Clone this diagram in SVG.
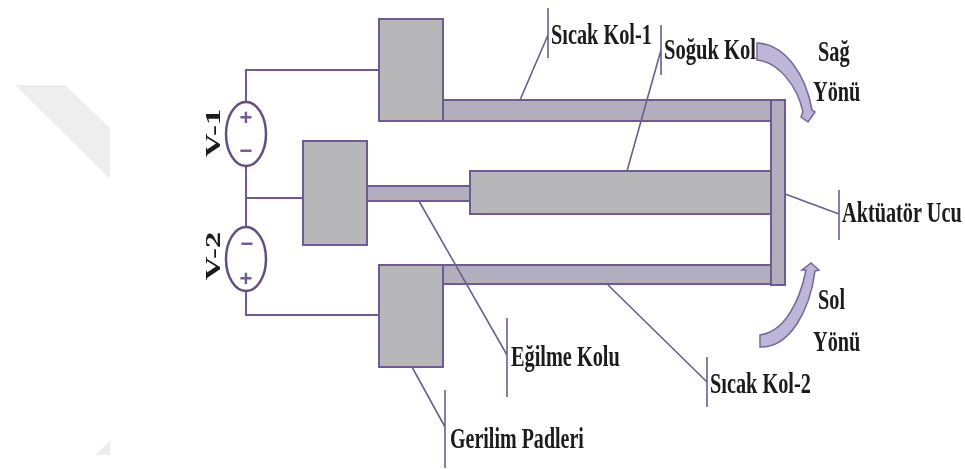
<svg xmlns="http://www.w3.org/2000/svg" width="965" height="469" viewBox="0 0 965 469">
<defs><filter id="soft" x="0" y="0" width="965" height="469" filterUnits="userSpaceOnUse"><feGaussianBlur stdDeviation="0.55"/></filter></defs>
<style>
.g{fill:#b7b7b9;stroke:#6f5a94;stroke-width:2}
.a{fill:#b3aebd;stroke:#6f5a94;stroke-width:2}
.w{fill:none;stroke:#6f5a94;stroke-width:2}
.l{fill:none;stroke:#6f5d8c;stroke-width:1.6}
.s{fill:#fff;stroke:#64507f;stroke-width:2.5}
.t{font-family:"Liberation Serif",serif;font-size:29px;font-weight:bold;fill:#1a1a1a}
.v{font-family:"Liberation Serif",serif;font-size:21px;font-weight:bold;fill:#1a1a1a}
.sign{font-family:"Liberation Sans",sans-serif;font-size:22px;font-weight:bold;fill:#6f5a94;text-anchor:middle}
.c{fill:#bdb6d6;stroke:#75689c;stroke-width:1.5}
</style>
<rect width="965" height="469" fill="#fff"/>
<g filter="url(#soft)">
<g id="watermark" fill="#eeeeee">
<polygon points="15,85 65,85 110,128 110,179"/>
<polygon points="95,455 110,441 110,455"/>
</g>
<g id="arm-hot-1"><rect class="a" x="443" y="100" width="328" height="21"/></g>
<g id="arm-hot-2"><rect class="a" x="443" y="265" width="328" height="19"/></g>
<g id="arm-bend"><rect class="a" x="367" y="186" width="103" height="15"/></g>
<g id="arm-cold"><rect class="g" x="470" y="171" width="301" height="43"/></g>
<g id="tip"><rect class="a" x="771" y="100" width="14" height="185"/></g>
<g id="pad-top"><rect class="g" x="379" y="19" width="64" height="102"/></g>
<g id="pad-mid"><rect class="g" x="303" y="141" width="64" height="104"/></g>
<g id="pad-bot"><rect class="g" x="379" y="265" width="64" height="102"/></g>
<g id="connectors">
<path class="w" d="M246,102V70H379"/>
<path class="w" d="M246,165V227"/>
<path class="w" d="M246,198H303"/>
<path class="w" d="M246,291V315H379"/>
<path class="l" d="M520,100L548,35M548,8V58"/>
<path class="l" d="M627,171L661,50M661,25V75"/>
<path class="l" d="M419,201L507,355M507,318V397"/>
<path class="l" d="M608,285L707,382M707,357V407"/>
<path class="l" d="M412,367L445,427M445,390V468"/>
<path class="l" d="M785,194L839,214M839,190V240"/>
</g>
<g id="v1"><ellipse class="s" cx="246" cy="134" rx="20" ry="32"/><text class="sign" x="246" y="125">+</text><text class="sign" x="246" y="158">−</text><text class="v" transform="translate(220,157) rotate(-90) scale(1.55,1)">V-1</text></g>
<g id="v2"><ellipse class="s" cx="246" cy="259" rx="20" ry="32"/><text class="sign" x="247" y="251">−</text><text class="sign" x="246" y="286">+</text><text class="v" transform="translate(220,280) rotate(-90) scale(1.55,1)">V-2</text></g>
<g id="arrow-right"><path class="c" d="M757,43C785,44 806,75 812,110L815,112L808,122L801,117L803,112C797,85 778,62 757,60Z"/></g>
<g id="arrow-left"><path class="c" d="M760,335C785,332 800,300 806,270L802,270L811,263L819,270L815,271C810,310 790,348 760,347Z"/></g>
<g id="labels">
<text class="t" transform="translate(551,44) scale(.7,1)">Sıcak Kol-1</text>
<text class="t" transform="translate(664,59) scale(.71,1)">Soğuk Kol</text>
<text class="t" transform="translate(818,61) scale(.7,1)">Sağ</text>
<text class="t" transform="translate(813,101) scale(.7,1)">Yönü</text>
<text class="t" transform="translate(842,222) scale(.7,1)">Aktüatör Ucu</text>
<text class="t" transform="translate(818,309) scale(.7,1)">Sol</text>
<text class="t" transform="translate(813,351) scale(.7,1)">Yönü</text>
<text class="t" transform="translate(710,393) scale(.7,1)">Sıcak Kol-2</text>
<text class="t" transform="translate(511,366) scale(.7,1)">Eğilme Kolu</text>
<text class="t" transform="translate(450,448) scale(.69,1)">Gerilim Padleri</text>
</g>
</g>
</svg>
